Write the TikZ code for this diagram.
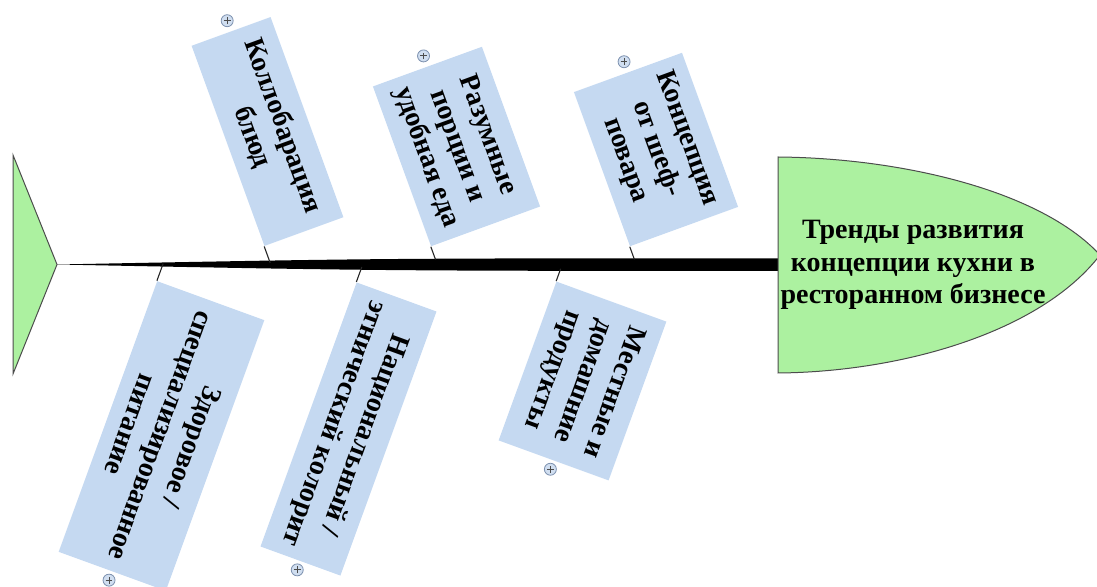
\documentclass[tikz,border=0pt]{standalone}
\usepackage{fontspec}
\setmainfont{Liberation Serif}
\usetikzlibrary{calc}
\definecolor{causeblue}{RGB}{197,217,241}
\definecolor{fishgreen}{RGB}{172,241,160}
\definecolor{plusring}{RGB}{125,145,175}
\definecolor{plusfill}{RGB}{208,222,240}
\begin{document}
\begin{tikzpicture}[
            x=0.5pt,
            y=-0.5pt,
            fish/.style={draw=black!70,fill=fishgreen,line width=0.5pt},
            cause/.style={fill=causeblue,inner sep=0pt,align=center,
                font=\bfseries\fontsize{14}{16.25}\selectfont},
            title/.style={align=center,font=\bfseries\fontsize{14}{16.25}\selectfont},
            bone/.style={draw=black!85,line width=0.55pt},
            plus/.style={circle,draw=plusring,fill=plusfill,inner sep=0pt,minimum size=6pt,
                path picture={\draw[black!70,line width=0.45pt]
                    ([xshift=-1.7pt]path picture bounding box.center) -- ([xshift=1.7pt]path picture bounding box.center)
                    ([yshift=-1.7pt]path picture bounding box.center) -- ([yshift=1.7pt]path picture bounding box.center);}}
        ]
            \useasboundingbox (0,0) rectangle (1097,587);

            \coordinate (tailtip) at (57,264.5);
            \coordinate (headback) at (778,264.5);

            % spine
            \fill[black] (tailtip) .. controls (380,258.3) .. ($(headback)+(0,-6.2)$)
                -- ($(headback)+(0,6.5)$) .. controls (380,270.8) .. (tailtip) -- cycle;

            % tail and head
            \draw[fish] (tailtip) -- (13,155) -- (13,374) -- cycle;
            \draw[fish] (778,157) .. controls (900,158) and (1040,190) .. (1100,255)
                .. controls (1040,333) and (900,372) .. (778,373) -- cycle;
            \node[title] (head) at (913,265) {Тренды развития\\концепции кухни в\\ресторанном бизнесе};

            % causes above the spine
            \node[cause,rotate=-70,minimum width=106.5pt,minimum height=42pt] (k1) at (267.5,131.5) {Коллобарация\\блюд};
            \node[cause,rotate=-70,minimum width=85pt,minimum height=58pt] (k2) at (456.5,146.5) {Разумные\\порции и\\удобная еда};
            \node[cause,rotate=-70,minimum width=82pt,minimum height=57.5pt] (k3) at (656,149.5) {Концепция\\от шеф-\\повара};

            % causes below the spine
            \node[cause,rotate=-110,minimum width=144pt,minimum height=57pt] (k4) at (161.5,436) {Здоровое /\\специализированное\\питание};
            \node[cause,rotate=-110,minimum width=140.5pt,minimum height=42.5pt] (k5) at (348.5,429) {Национальный /\\этнический колорит};
            \node[cause,rotate=-110,minimum width=84.5pt,minimum height=58.5pt] (k6) at (582.5,381) {Местные и\\домашние\\продукты};

            \foreach \k/\f in {k1/1.082,k2/1.08,k3/1.082} {
                \draw[bone] ($(\k.south west)!\f!(\k.south east)$) -- (\k.south east);
                \node[plus] (p\k) at ($(\k.west)!-5.5pt!(\k.east)$) {};
            }
            \foreach \k/\f in {k4/1.063,k5/1.056,k6/1.077} {
                \draw[bone] ($(\k.south east)!\f!(\k.south west)$) -- (\k.south west);
                \node[plus] (p\k) at ($(\k.east)!-4.5pt!(\k.west)$) {};
            }
        \end{tikzpicture}
\end{document}
